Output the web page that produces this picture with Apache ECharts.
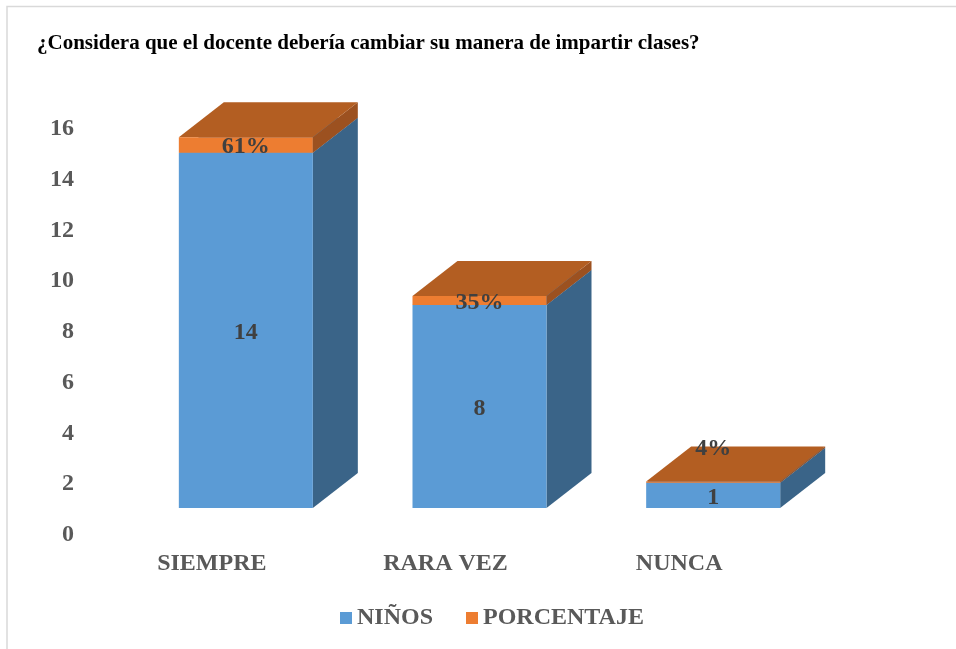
<!DOCTYPE html>
<html>
<head>
<meta charset="utf-8">
<script src="https://cdn.jsdelivr.net/npm/echarts@6/dist/echarts.min.js"></script>
<style>
  html, body { margin: 0; padding: 0; background: #ffffff; }
  #chart { width: 956px; height: 649px; }
</style>
</head>
<body>
<div id="chart"></div>
<script>
// ---- data ----
const titleText = '¿Considera que el docente debería cambiar su manera de impartir clases?';
const categories = ['SIEMPRE', 'RARA VEZ', 'NUNCA'];
const ninos = [14, 8, 1];
const porcentaje = [61, 35, 4];          // percent
const yTicks = { min: 0, max: 16, interval: 2 };
const seriesNames = ['NIÑOS', 'PORCENTAJE'];

// ---- style ----
const FONT = "'Liberation Serif', 'Times New Roman', serif";
const GRAY = '#595959';
const LABEL = '#404040';
const BLUE = { front: '#5B9BD5', side: '#3A6488', top: '#4A80B0' };
const ORANGE = { front: '#ED7D31', side: '#9C5120', top: '#B35E22' };
const BAR_W = 134, BAR_SHIFT = 33, DX = 45, DY = -35, FLOOR = -27;

const ninosData = ninos.map((v, i) => [i, 0, v]);
const pctData = porcentaje.map((p, i) => [i, ninos[i], ninos[i] + p / 100]);

function makeRender(col, labelFn, smallRule) {
  return function (params, api) {
    const i = api.value(0), v0 = api.value(1), v1 = api.value(2);
    const b = api.coord([i, v0]);
    const t = api.coord([i, v1]);
    const xl = b[0] - BAR_SHIFT, xr = xl + BAR_W;
    const yb = b[1] + FLOOR, yt = t[1] + FLOOR;
    const children = [
      { type: 'polygon', shape: { points: [[xr, yb], [xr + DX, yb + DY], [xr + DX, yt + DY], [xr, yt]] },
        style: { fill: col.side } },
      { type: 'polygon', shape: { points: [[xl, yt], [xr, yt], [xr + DX, yt + DY], [xl + DX, yt + DY]] },
        style: { fill: col.top } },
      { type: 'rect', shape: { x: xl, y: yt, width: BAR_W, height: yb - yt },
        style: { fill: col.front } }
    ];
    let ly = (yb + yt) / 2;
    if (smallRule && (yb - yt) < 5) ly = yt + DY;
    children.push({
      type: 'text', z2: 10,
      style: { text: labelFn(params.dataIndex), x: (xl + xr) / 2, y: ly + 2,
        align: 'center', verticalAlign: 'middle',
        font: 'bold 24px ' + FONT, fill: LABEL }
    });
    return { type: 'group', children };
  };
}

const chart = echarts.init(document.getElementById('chart'), null, { renderer: 'canvas' });
chart.setOption({
  backgroundColor: '#ffffff',
  animation: false,
  title: {
    text: titleText, left: 37, top: 33, padding: 0,
    textStyle: { fontFamily: FONT, fontWeight: 'bold', fontSize: 21, color: '#000000' }
  },
  legend: {
    data: seriesNames, left: 340, top: 606, padding: 0,
    icon: 'rect', itemWidth: 12, itemHeight: 12, itemGap: 33,
    textStyle: { fontFamily: FONT, fontWeight: 'bold', fontSize: 24, color: GRAY }
  },
  grid: { left: 95, right: 160, top: 129, bottom: 114 },
  xAxis: {
    type: 'category', data: categories,
    axisLine: { show: false }, axisTick: { show: false }, splitLine: { show: false },
    axisLabel: { margin: 17, fontFamily: FONT, fontWeight: 'bold', fontSize: 24, color: GRAY }
  },
  yAxis: {
    type: 'value', min: yTicks.min, max: yTicks.max, interval: yTicks.interval,
    axisLine: { show: false }, axisTick: { show: false }, splitLine: { show: false },
    axisLabel: { margin: 21, padding: [4, 0, 0, 0], fontFamily: FONT, fontWeight: 'bold', fontSize: 24, color: GRAY }
  },
  graphic: [
    { type: 'polyline', shape: { points: [[7, 649], [7, 6.5], [956, 6.5]] },
      style: { stroke: '#D9D9D9', lineWidth: 1.5, fill: null }, silent: true }
  ],
  series: [
    { name: seriesNames[0], type: 'custom', itemStyle: { color: BLUE.front },
      encode: { x: 0, y: [1, 2] }, data: ninosData,
      renderItem: makeRender(BLUE, i => String(ninos[i]), false) },
    { name: seriesNames[1], type: 'custom', itemStyle: { color: ORANGE.front },
      encode: { x: 0, y: [1, 2] }, data: pctData,
      renderItem: makeRender(ORANGE, i => porcentaje[i] + '%', true) }
  ]
});
</script>
</body>
</html>
